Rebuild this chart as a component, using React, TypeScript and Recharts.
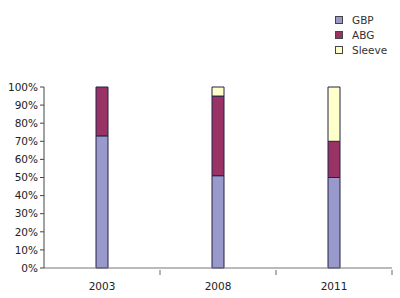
import React from 'react';
import { BarChart, Bar, XAxis, YAxis } from 'recharts';

const years = ['2003', '2008', '2011'];
const gbp = [0.73, 0.51, 0.5];
const abg = [0.27, 0.44, 0.2];
const sleeve = [0, 0.05, 0.3];
const yTicks = [0, 0.1, 0.2, 0.3, 0.4, 0.5, 0.6, 0.7, 0.8, 0.9, 1];

const series = [
  { key: 'gbp', name: 'GBP', color: '#9999cc' },
  { key: 'abg', name: 'ABG', color: '#993366' },
  { key: 'sleeve', name: 'Sleeve', color: '#ffffcc' },
];

const data = years.map((year, i) => ({
  year,
  gbp: gbp[i],
  abg: abg[i],
  sleeve: sleeve[i],
}));

const font = '"DejaVu Sans", Verdana, sans-serif';

// label at the band centre, small tick mark at the right edge of each band
const YearTick = (props: any) => {
  const { x, y, payload } = props;
  const half = payload?.offset || 57;
  return (
    <g>
      <line x1={x + half} y1={y - 6} x2={x + half} y2={y - 1} stroke="#666" />
      <text x={x} y={y + 14} textAnchor="middle" fontSize={10.5} fill="#222" fontFamily={font}>
        {payload.value}
      </text>
    </g>
  );
};

const LegendBox = () => (
  <div
    style={{
      position: 'absolute',
      left: 335,
      top: 12.5,
      fontFamily: font,
      fontSize: 10.5,
      color: '#333',
    }}
  >
    {series.map((s) => (
      <div key={s.key} style={{ display: 'flex', alignItems: 'center', height: 15 }}>
        <span
          style={{
            width: 6,
            height: 6,
            background: s.color,
            border: '1px solid #444',
            marginRight: 9,
            display: 'inline-block',
          }}
        />
        {s.name}
      </div>
    ))}
  </div>
);

export default function App() {
  return (
    <div style={{ position: 'absolute', left: 0, top: 0, width: 400, height: 298, background: '#fff' }}>
      <BarChart
        width={400}
        height={298}
        data={data}
        margin={{ top: 87, right: 8, left: 0, bottom: 0 }}
        barSize={12}
      >
        <XAxis
          dataKey="year"
          height={30}
          axisLine={{ stroke: '#777' }}
          tickLine={false}
          tick={<YearTick />}
          interval={0}
        />
        <YAxis
          width={44}
          domain={[0, 1]}
          ticks={yTicks}
          interval={0}
          tickFormatter={(v: number) => `${Math.round(v * 100)}%`}
          axisLine={{ stroke: '#444' }}
          tickLine={{ stroke: '#444' }}
          tickSize={4}
          tick={{ fontSize: 10.5, fill: '#222', fontFamily: font }}
        />
        {series.map((s) => (
          <Bar
            key={s.key}
            dataKey={s.key}
            name={s.name}
            stackId="a"
            fill={s.color}
            stroke="#222244"
            strokeWidth={1}
            isAnimationActive={false}
          />
        ))}
      </BarChart>
      <LegendBox />
    </div>
  );
}
